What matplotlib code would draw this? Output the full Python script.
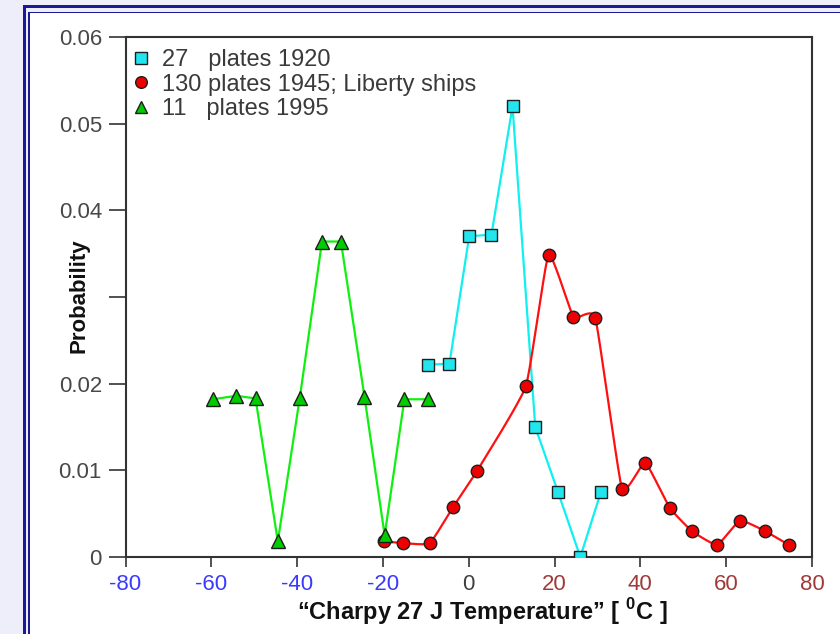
import numpy as np
import matplotlib
matplotlib.use("Agg")
import matplotlib.pyplot as plt
from matplotlib.lines import Line2D
from matplotlib.patches import Rectangle

plt.rcParams['font.family'] = ['Liberation Sans', 'DejaVu Sans']
plt.rcParams['mathtext.fontset'] = 'custom'
plt.rcParams['mathtext.rm'] = 'Liberation Sans'
plt.rcParams['mathtext.bf'] = 'Liberation Sans:bold'

# ---- data -------------------------------------------------------------
temp_1920 = [-9.6, -4.5, 0.1, 5.3, 10.2, 15.5, 20.8, 26.0, 30.8]
prob_1920 = [0.0222, 0.0223, 0.0370, 0.0372, 0.0520, 0.0150, 0.0075, 0.0, 0.0075]

temp_1945 = [-19.8, -15.3, -9.1, -3.6, 1.9, 13.3, 18.6, 24.4, 29.5,
             35.7, 41.1, 46.8, 52.0, 57.9, 63.2, 69.0, 74.6]
prob_1945 = [0.0018, 0.0016, 0.0016, 0.0058, 0.0099, 0.0197, 0.0349, 0.0277,
             0.0276, 0.0079, 0.0109, 0.0057, 0.0030, 0.0014, 0.0042, 0.0030,
             0.0014]

temp_1995 = [-59.6, -54.2, -49.7, -44.5, -39.4, -34.2, -29.8, -24.3, -19.6,
             -15.0, -9.4]
prob_1995 = [0.0182, 0.0186, 0.0183, 0.0018, 0.0183, 0.0364, 0.0364, 0.0185,
             0.0025, 0.0182, 0.0182]

series_labels = ["27   plates 1920", "130 plates 1945; Liberty ships",
                 "11   plates 1995"]

x_ticks = [-80, -60, -40, -20, 0, 20, 40, 60, 80]
y_ticks = [0, 0.01, 0.02, 0.03, 0.04, 0.05, 0.06]
y_tick_labels = ["0", "0.01", "0.02", "", "0.04", "0.05", "0.06"]


def cardinal_curve(x, y, tension=0.2, n=20):
    """Gently smoothed path through the given points (cardinal spline)."""
    p = np.column_stack([x, y]).astype(float)
    ext = np.vstack([p[0], p, p[-1]])
    t = np.linspace(0, 1, n, endpoint=False)[:, None]
    h00 = 2 * t ** 3 - 3 * t ** 2 + 1
    h10 = t ** 3 - 2 * t ** 2 + t
    h01 = -2 * t ** 3 + 3 * t ** 2
    h11 = t ** 3 - t ** 2
    out = []
    for i in range(1, len(ext) - 2):
        p0, p1, p2, p3 = ext[i - 1], ext[i], ext[i + 1], ext[i + 2]
        m1 = tension * (p2 - p0)
        m2 = tension * (p3 - p1)
        out.append(h00 * p1 + h10 * m1 + h01 * p2 + h11 * m2)
    out.append(ext[-2][None, :])
    out = np.vstack(out)
    return out[:, 0], out[:, 1]


W, H = 840, 634
fig = plt.figure(figsize=(W / 100, H / 100), dpi=100, facecolor='#eeeefa')


def px_rect(x0, y0, x1, y1, color):
    fig.add_artist(Rectangle((x0 / W, 1 - y1 / H), (x1 - x0) / W,
                             (y1 - y0) / H, transform=fig.transFigure,
                             facecolor=color, edgecolor='none', zorder=-10))


# window frame: white page with a double blue border
px_rect(30, 13, W, H, 'white')
px_rect(22.5, 5, 25.5, H, '#1a1a99')
px_rect(22.5, 5, W, 8, '#1a1a99')
px_rect(28.5, 11.5, 30.5, H, '#1a1a99')
px_rect(28.5, 11.5, W, 13, '#1a1a99')

ax = fig.add_axes([125.5 / W, 1 - 557 / H, (812 - 125.5) / W, (557 - 37) / H])
ax.set_facecolor('white')

edge = '#1e1e1e'
ax.plot(temp_1920, prob_1920, color='#10f0f0', lw=1.6, zorder=2)
ax.plot(temp_1920, prob_1920, ls='none', marker='s', ms=9.3, mfc='#22e6ee',
        mec=edge, mew=1.0, zorder=3)

cx, cy = cardinal_curve(temp_1945, prob_1945)
ax.plot(cx, cy, color='#ff1010', lw=1.6, zorder=4)
ax.plot(temp_1945, prob_1945, ls='none', marker='o', ms=9.0, mfc='#ee0000',
        mec=edge, mew=1.0, zorder=5)

ax.plot(temp_1995, prob_1995, color='#10f010', lw=1.6, zorder=6)
ax.plot(temp_1995, prob_1995, ls='none', marker='^', ms=9.8, mfc='#00cc00',
        mec=edge, mew=1.0, zorder=7)

ax.set_xlim(-80, 80)
ax.set_ylim(0, 0.06)
ax.set_xticks(x_ticks)
ax.set_xticklabels([str(t) for t in x_ticks])
ax.set_yticks(y_ticks)
ax.set_yticklabels(y_tick_labels)

for lbl, t in zip(ax.get_xticklabels(), x_ticks):
    if t < 0:
        lbl.set_color('#3a3aff')
    elif t > 0:
        lbl.set_color('#a03a3a')
    else:
        lbl.set_color('#404040')
for lbl in ax.get_yticklabels():
    lbl.set_color('#484848')

ax.tick_params(axis='x', direction='out', length=7.5, width=1.2,
               color='#333333', labelsize=16, pad=5)
ax.tick_params(axis='y', direction='out', length=12, width=1.2,
               color='#333333', labelsize=16, pad=5)
for sp in ax.spines.values():
    sp.set_color('#333333')
    sp.set_linewidth(1.5)

ax.set_xlabel('“Charpy 27 J Temperature” [ $^{\\mathbf{0}}$C ]',
              fontsize=17, fontweight='bold', color='#111111')
ax.xaxis.label.set_va('center')
ax.xaxis.set_label_coords((482 - 125.5) / (812 - 125.5), (557 - 612) / 520)

ax.set_ylabel('Probability', fontsize=16, fontweight='bold', color='#111111')
ax.yaxis.label.set_va('center')
ax.yaxis.set_label_coords((79 - 125.5) / (812 - 125.5), (557 - 296) / 520)

handles = [
    Line2D([], [], ls='none', marker='s', ms=8.4, mfc='#22e6ee', mec=edge, mew=1.0),
    Line2D([], [], ls='none', marker='o', ms=8.4, mfc='#ee0000', mec=edge, mew=1.0),
    Line2D([], [], ls='none', marker='^', ms=9.0, mfc='#00cc00', mec=edge, mew=1.0),
]
leg = ax.legend(handles, series_labels, loc='upper left',
                bbox_to_anchor=((132 - 125.5) / (812 - 125.5), (557 - 49) / 520),
                frameon=False, fontsize=17, handlelength=0.75,
                handletextpad=0.5, labelspacing=0.11, borderpad=0,
                borderaxespad=0)
for txt in leg.get_texts():
    txt.set_color('#3a3a3a')

fig.savefig('out.png', dpi=100, facecolor=fig.get_facecolor())
